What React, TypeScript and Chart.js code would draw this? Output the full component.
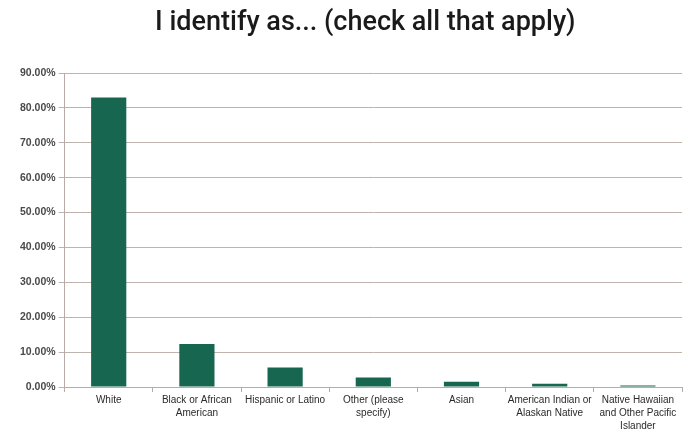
import React, { useEffect, useRef } from "react";
import { Chart, registerables } from "chart.js";

Chart.register(...registerables);

const categories: string[][] = [
  ["White"],
  ["Black or African", "American"],
  ["Hispanic or Latino"],
  ["Other (please", "specify)"],
  ["Asian"],
  ["American Indian or", "Alaskan Native"],
  ["Native Hawaiian", "and Other Pacific", "Islander"],
];
const values: number[] = [83.0, 12.3, 5.6, 2.7, 1.5, 0.95, 0.4];
const titleText = "I identify as... (check all that apply)";

const titlePlugin = {
  id: "customTitle",
  afterDraw(chart: any) {
    const { ctx, chartArea } = chart;
    ctx.save();
    ctx.fillStyle = "#1a1a1a";
    ctx.font = "500 27px Roboto";
    ctx.textAlign = "center";
    ctx.textBaseline = "middle";
    ctx.fillText(titleText, (chartArea.left + chartArea.right) / 2 - 8, 23);
    ctx.restore();
  },
};

export default function App() {
  const ref = useRef<HTMLCanvasElement | null>(null);
  useEffect(() => {
    document.body.style.margin = "0";
    const ctx = ref.current!;
    const chart = new Chart(ctx, {
      type: "bar",
      data: {
        labels: categories,
        datasets: [
          {
            data: values,
            backgroundColor: "#17664f",
            borderWidth: 0,
            barPercentage: 0.42,
            categoryPercentage: 0.95,
          },
        ],
      },
      plugins: [titlePlugin],
      options: {
        animation: false,
        responsive: false,
        maintainAspectRatio: false,
        layout: { padding: { left: 17, right: 10, top: 73, bottom: 0 } },
        plugins: {
          legend: { display: false },
          tooltip: { enabled: false },
          title: { display: false },
        },
        scales: {
          x: {
            offset: true,
            grid: {
              display: true,
              offset: true,
              drawOnChartArea: false,
              drawTicks: true,
              tickLength: 5,
              color: "#b9aca6",
            },
            border: { display: true, color: "#b9aca6", width: 1 },
            ticks: {
              color: "#2a2a2a",
              font: { family: "Liberation Sans", size: 10, lineHeight: 1.3 },
              maxRotation: 0,
              minRotation: 0,
              autoSkip: false,
              padding: 2,
            },
          },
          y: {
            min: 0,
            max: 90,
            grid: {
              color: "#bfb3ad",
              lineWidth: 1,
              tickLength: 6,
            },
            border: { display: true, color: "#b9aca6", width: 1 },
            ticks: {
              stepSize: 10,
              color: "#4a4a4a",
              font: { family: "Liberation Sans", size: 10.5, weight: "bold" },
              padding: 3,
              callback: (v: any) => Number(v).toFixed(2) + "%",
            },
          },
        },
      },
    });
    return () => chart.destroy();
  }, []);
  return <canvas ref={ref} width={692} height={435} style={{ display: "block" }} />;
}
